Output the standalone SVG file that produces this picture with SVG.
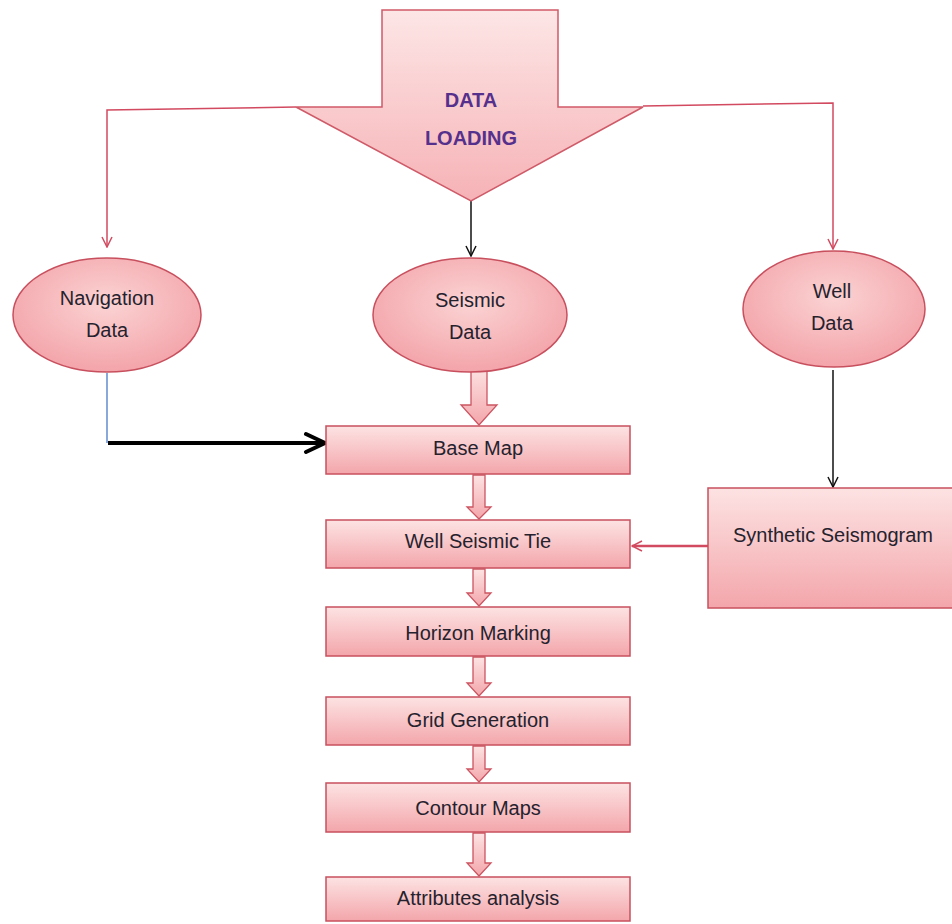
<svg xmlns="http://www.w3.org/2000/svg" width="952" height="924" viewBox="0 0 952 924">
<style>
.box{fill:url(#gBox);stroke:#c8505e;stroke-width:1.5}
.ell{fill:url(#gEll);stroke:#c8505e;stroke-width:1.5}
.blk{fill:url(#gBox);stroke:#cc5562;stroke-width:1.3}
.t{font-family:"Liberation Sans",Arial,sans-serif;font-size:20px;fill:#25222e;text-anchor:middle}
.hd{font-family:"Liberation Sans",Arial,sans-serif;font-size:20px;font-weight:bold;fill:#55308c;text-anchor:middle}
.red{fill:none;stroke:#d24a60;stroke-width:1.5}
.blk1{fill:none;stroke:#111;stroke-width:1.5}
</style>
<defs>
<linearGradient id="gBox" x1="0" y1="0" x2="0" y2="1">
<stop offset="0" stop-color="#fde3e3"/>
<stop offset="1" stop-color="#f3a6ab"/>
</linearGradient>
<radialGradient id="gEll" cx="0.5" cy="0.4" r="0.6">
<stop offset="0" stop-color="#fbd3d3"/>
<stop offset="1" stop-color="#f3a4aa"/>
</radialGradient>
<linearGradient id="gBig" x1="0" y1="0" x2="0" y2="1">
<stop offset="0" stop-color="#fde6e6"/>
<stop offset="1" stop-color="#f6b2b6"/>
</linearGradient>
<marker id="mRed" viewBox="0 0 12 12" refX="11" refY="6" markerWidth="12" markerHeight="12" markerUnits="userSpaceOnUse" orient="auto">
<path d="M1,1 L11,6 L1,11" fill="none" stroke="#d24a60" stroke-width="1.5"/>
</marker>
<marker id="mBlk" viewBox="0 0 12 12" refX="11" refY="6" markerWidth="12" markerHeight="12" markerUnits="userSpaceOnUse" orient="auto">
<path d="M1,1 L11,6 L1,11" fill="none" stroke="#111" stroke-width="1.5"/>
</marker>
<marker id="mThick" viewBox="0 0 24 24" refX="22" refY="12" markerWidth="24" markerHeight="24" markerUnits="userSpaceOnUse" orient="auto">
<path d="M3,3 L22,12 L3,21" fill="none" stroke="#000" stroke-width="4" stroke-linecap="round"/>
</marker>
</defs>
<rect width="952" height="924" fill="#ffffff"/>

<g id="connectors">
<polyline class="red" points="296,107 107,110 107,247" marker-end="url(#mRed)"/>
<polyline class="red" points="643,106 833,103 833,249" marker-end="url(#mRed)"/>
<line class="blk1" x1="471" y1="201" x2="471" y2="256" marker-end="url(#mBlk)"/>
<line class="blk1" x1="833" y1="370" x2="833" y2="487" marker-end="url(#mBlk)"/>
<line x1="107" y1="373" x2="107" y2="443" stroke="#3a6fc4" stroke-width="1.2"/>
<line x1="108" y1="443" x2="325" y2="443" stroke="#000" stroke-width="4" marker-end="url(#mThick)"/>
<line x1="708" y1="546" x2="632" y2="546" stroke="#d24a60" stroke-width="2.5" marker-end="url(#mRed)"/>
<path class="blk" d="M471,368 L487,368 L487,405 L497,405 L479,425 L461,405 L471,405 Z"/>
<path class="blk" d="M473,475 L485,475 L485,507 L491,507 L479,519 L467,507 L473,507 Z"/>
<path class="blk" d="M473,569 L485,569 L485,593 L491,593 L479,606 L467,593 L473,593 Z"/>
<path class="blk" d="M473,657 L485,657 L485,683 L491,683 L479,696 L467,683 L473,683 Z"/>
<path class="blk" d="M473,746 L485,746 L485,769 L491,769 L479,782 L467,769 L473,769 Z"/>
<path class="blk" d="M473,833 L485,833 L485,863 L491,863 L479,876 L467,863 L473,863 Z"/>
</g>

<g id="data-loading">
<path d="M382,10 L558,10 L558,107 L643,107 L471,201 L296,107 L382,107 Z" fill="url(#gBig)" stroke="#cf5a68" stroke-width="1.5"/>
<text class="hd" x="471" y="107">DATA</text>
<text class="hd" x="471" y="145">LOADING</text>
</g>

<g id="navigation-data">
<ellipse class="ell" cx="107" cy="315" rx="94" ry="57"/>
<text class="t" x="107" y="305">Navigation</text>
<text class="t" x="107" y="337">Data</text>
</g>

<g id="seismic-data">
<ellipse class="ell" cx="470" cy="315" rx="97" ry="57"/>
<text class="t" x="470" y="307">Seismic</text>
<text class="t" x="470" y="339">Data</text>
</g>

<g id="well-data">
<ellipse class="ell" cx="834" cy="309" rx="91" ry="58"/>
<text class="t" x="832" y="298">Well</text>
<text class="t" x="832" y="330">Data</text>
</g>

<g id="base-map">
<rect class="box" x="326" y="426" width="304" height="48"/>
<text class="t" x="478" y="455">Base Map</text>
</g>

<g id="well-seismic-tie">
<rect class="box" x="326" y="520" width="304" height="48"/>
<text class="t" x="478" y="548">Well Seismic Tie</text>
</g>

<g id="synthetic-seismogram">
<rect class="box" x="708" y="488" width="250" height="120"/>
<text class="t" x="833" y="542">Synthetic Seismogram</text>
</g>

<g id="horizon-marking">
<rect class="box" x="326" y="607" width="304" height="49"/>
<text class="t" x="478" y="640">Horizon Marking</text>
</g>

<g id="grid-generation">
<rect class="box" x="326" y="697" width="304" height="48"/>
<text class="t" x="478" y="727">Grid Generation</text>
</g>

<g id="contour-maps">
<rect class="box" x="326" y="783" width="304" height="49"/>
<text class="t" x="478" y="815">Contour Maps</text>
</g>

<g id="attributes-analysis">
<rect class="box" x="326" y="877" width="304" height="44"/>
<text class="t" x="478" y="905">Attributes analysis</text>
</g>
</svg>
